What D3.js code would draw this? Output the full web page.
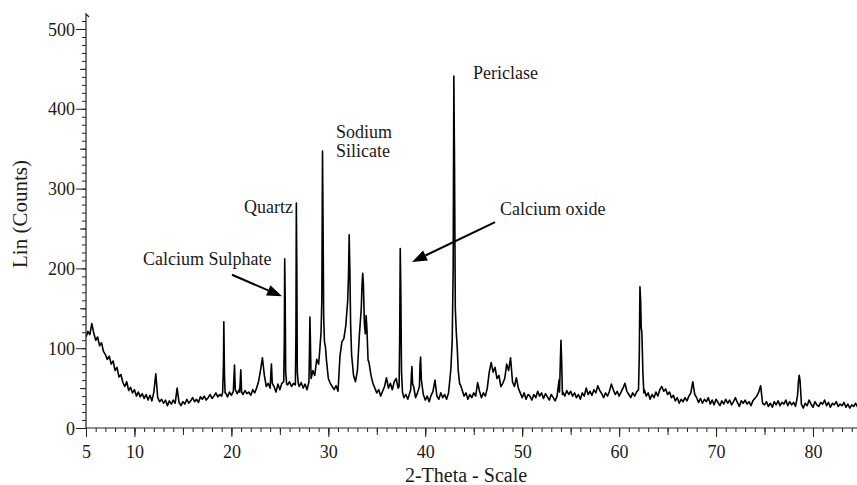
<!DOCTYPE html>
<html>
<head>
<meta charset="utf-8">
<script src="https://cdnjs.cloudflare.com/ajax/libs/d3/7.8.5/d3.min.js"></script>
<style>
    body { margin: 0; background: #fff; }
    #chart { width: 857px; height: 485px; }
    text { font-family: "Liberation Serif", "Times New Roman", serif; fill: #1a1a1a; }
</style>
</head>
<body>
<div id="chart"></div>
<script>
//Barrido 2-Theta: fondo leído cada 0.2 grados desde 5.0
const ANGLE_START = 5.0, ANGLE_STEP = 0.2;

const backgroundCounts = [
    114,121,117,131,119,110,114,103,107,96,   // 5.0 - 6.8
    92,86,90,80,84,72,76,64,67,57,            // 7.0
    52,58,47,51,44,48,40,45,39,43,            // 9.0
    37,42,35,41,34,45,68,38,33,36,            // 11.0
    31,35,28,34,30,35,31,50,32,28,            // 13.0
    33,30,36,31,34,38,33,36,32,39,            // 15.0
    36,40,35,38,42,37,40,44,39,42,            // 17.0
    40,43,44,39,45,41,47,44,43,48,            // 19.0
    46,42,47,43,45,41,48,44,50,58,            // 21.0
    72,88,66,52,56,50,55,52,45,55,            // 23.0
    48,56,58,62,54,58,52,56,54,58,            // 25.0
    52,57,50,55,48,60,58,72,66,86,            // 27.0
    80,110,140,104,88,62,56,52,48,53,         // 29.0
    46,90,108,112,128,160,180,95,66,58,       // 31.0
    72,116,150,170,122,130,82,66,56,50,       // 33.0
    44,48,40,46,52,63,50,56,48,58,            // 35.0
    62,50,90,60,38,42,36,44,72,52,            // 37.0
    38,44,70,80,42,35,40,33,41,46,            // 39.0
    60,40,36,44,38,42,36,44,60,110,           // 41.0
    300,115,80,55,48,40,44,36,42,38,          // 43.0
    44,40,57,46,38,44,40,50,70,82,            // 45.0
    70,76,62,66,52,56,62,80,72,88,            // 47.0
    58,52,63,50,44,38,44,36,42,40,            // 49.0
    35,42,38,46,40,44,37,43,39,35,            // 51.0
    42,38,34,40,60,105,45,40,47,42,           // 53.0
    46,40,44,38,42,36,44,40,50,42,            // 55.0
    46,41,48,44,53,47,43,38,44,40,            // 57.0
    46,55,48,42,46,40,45,50,56,46,            // 59.0
    42,38,44,40,45,50,170,110,48,40,          // 61.0
    44,36,42,38,45,40,48,52,46,49,            // 63.0
    42,45,38,41,34,38,31,36,33,38,            // 65.0
    34,40,44,58,42,38,32,37,31,36,            // 67.0
    33,38,30,35,29,36,32,28,34,30,            // 69.0
    36,31,35,29,33,38,32,27,34,31,            // 71.0
    35,30,33,28,34,37,40,45,53,31,            // 73.0
    29,33,27,31,26,33,29,34,28,32,            // 75.0
    30,35,28,33,29,32,27,40,65,30,            // 77.0
    25,31,28,35,30,26,33,29,27,32,            // 79.0
    30,35,28,32,26,31,29,33,27,30,            // 81.0
    28,32,26,30,25,29,27,31,26                // 83.0 - 84.6
];

//Picos estrechos [2-theta, cuentas]
const peakProfiles = [
    [[19.1,45],[19.18,80],[19.22,133],[19.28,70],[19.35,44]],
    [[20.2,46],[20.27,65],[20.32,79],[20.4,48]],
    [[20.85,45],[20.92,60],[20.97,73],[21.05,45]],
    [[24.0,50],[24.08,70],[24.13,80],[24.22,56]],
    [[25.4,58],[25.46,110],[25.5,212],[25.55,160],[25.6,70],[25.7,55]],
    [[26.6,54],[26.66,120],[26.7,282],[26.75,200],[26.8,70],[26.9,56]],
    [[28.0,58],[28.06,100],[28.1,139],[28.15,110],[28.22,62],[28.3,66]],
    [[29.1,95],[29.25,120],[29.33,160],[29.4,347],[29.46,250],[29.52,140],[29.6,108],[29.7,102],[29.8,86]],
    [[32.0,160],[32.08,190],[32.15,242],[32.22,200],[32.3,130],[32.4,92]],
    [[33.4,150],[33.48,180],[33.55,194],[33.62,180],[33.72,130],[33.82,118],[33.9,141],[33.98,125],[34.1,85]],
    [[37.3,52],[37.36,110],[37.42,225],[37.48,170],[37.55,70],[37.65,45]],
    [[38.5,48],[38.57,66],[38.62,77],[38.7,55]],
    [[39.4,52],[39.46,80],[39.52,89],[39.6,60]],
    [[42.5,56],[42.65,75],[42.78,110],[42.88,200],[42.95,441],[43.02,330],[43.1,150],[43.2,120],[43.3,100],[43.4,72],[43.55,55]],
    [[53.85,45],[53.93,80],[54.0,110],[54.07,85],[54.15,42]],
    [[62.0,48],[62.08,90],[62.15,177],[62.22,160],[62.28,125],[62.35,120],[62.45,70],[62.55,44]],
    [[78.4,40],[78.5,58],[78.58,66],[78.66,60],[78.78,36]]
];

const xTickLabels = [5, 10, 20, 30, 40, 50, 60, 70, 80];
const yTickLabels = [0, 100, 200, 300, 400, 500];

//Etiquetas de fases: [texto, 2-theta, cuentas, ancla]
const phaseLabels = [
    ['Periclase', 44.93, 437, 'start'],
    ['Sodium', 30.8, 363, 'start'],
    ['Silicate', 30.8, 340, 'start'],
    ['Quartz', 26.36, 270, 'end'],
    ['Calcium oxide', 47.7, 267, 'start'],
    ['Calcium Sulphate', 10.88, 204, 'start']
];
//Flechas: [desde 2-theta, desde cuentas, hasta 2-theta, hasta cuentas]
const phaseArrows = [
    [20.06, 192, 25.22, 165],
    [47.2, 258, 38.63, 208]
];

let width = 857, height = 485;

let svg = d3.select('#chart')
    .append('svg')
    .attr('width', width)
    .attr('height', height);

let x = d3.scaleLinear()
    .domain([5, 84.5])
    .range([86, 856.6]);

let y = d3.scaleLinear()
    .domain([0, 500])
    .range([428, 29]);

//Serie completa
let spans = peakProfiles.map(function(p) { return [p[0][0] - 1e-6, p[p.length - 1][0] + 1e-6]; });
let series = backgroundCounts
    .map(function(c, i) { return [ANGLE_START + i * ANGLE_STEP, c]; })
    .filter(function(d) { return !spans.some(function(s) { return d[0] >= s[0] && d[0] <= s[1]; }); });
peakProfiles.forEach(function(p) { series = series.concat(p); });
series.sort(function(a, b) { return a[0] - b[0]; });

svg.append('clipPath').attr('id', 'plot-clip')
    .append('rect')
    .attr('x', 86).attr('y', 0)
    .attr('width', width - 86).attr('height', 428);

svg.append('path')
    .datum(series)
    .attr('clip-path', 'url(#plot-clip)')
    .attr('fill', 'none')
    .attr('stroke', '#000')
    .attr('stroke-width', 1.6)
    .attr('stroke-linejoin', 'round')
    .attr('d', d3.line()
        .x(function(d) { return x(d[0]); })
        .y(function(d) { return y(d[1]); }));

//Eje Y
function yTicks(values, size, labels) {
    let g = svg.append('g')
        .attr('transform', 'translate(86,0)')
        .call(d3.axisLeft(y).tickValues(values).tickSize(size).tickSizeOuter(0)
            .tickFormat(labels ? d3.format('d') : ''));
    g.select('.domain').remove();
    g.selectAll('line').attr('stroke', '#222');
    g.selectAll('text')
        .attr('x', -11)
        .attr('dy', '0.34em')
        .style('font-size', '18px')
        .style('font-family', '"Liberation Serif", serif')
        .style('fill', '#1a1a1a');
    return g;
}
yTicks(d3.range(0, 520, 10), 4, false);
yTicks(d3.range(50, 520, 100), 6, false);
yTicks(yTickLabels, 10, true);

svg.append('path')
    .attr('d', 'M86,428V14L89,17')
    .attr('fill', 'none')
    .attr('stroke', '#222')
    .attr('stroke-width', 1.2);

//Eje X
function xTicks(values, size, labels) {
    let g = svg.append('g')
        .attr('transform', 'translate(0,428)')
        .call(d3.axisBottom(x).tickValues(values).tickSize(size).tickSizeOuter(0)
            .tickFormat(labels ? d3.format('d') : ''));
    g.select('.domain').remove();
    g.selectAll('line').attr('stroke', '#222');
    g.selectAll('text')
        .attr('y', 30)
        .attr('dy', 0)
        .style('font-size', '18px')
        .style('font-family', '"Liberation Serif", serif')
        .style('fill', '#1a1a1a');
    return g;
}
xTicks(d3.range(5, 85, 1), 4, false);
xTicks(d3.range(5, 85, 5), 7, false);
xTicks(xTickLabels, 9, true);

svg.append('line')
    .attr('x1', 86).attr('x2', 857)
    .attr('y1', 428).attr('y2', 428)
    .attr('stroke', '#222')
    .attr('stroke-width', 1.2);

//Títulos de ejes
svg.append('text')
    .attr('transform', 'translate(27,214) rotate(-90)')
    .attr('text-anchor', 'middle')
    .style('font-size', '21px')
    .text('Lin (Counts)');

svg.append('text')
    .attr('x', 466)
    .attr('y', 482)
    .attr('text-anchor', 'middle')
    .style('font-size', '20px')
    .text('2-Theta - Scale');

//Anotaciones
svg.selectAll('.phase')
    .data(phaseLabels)
    .enter()
    .append('text')
    .attr('class', 'phase')
    .attr('x', function(d) { return x(d[1]); })
    .attr('y', function(d) { return y(d[2]); })
    .attr('text-anchor', function(d) { return d[3]; })
    .style('font-size', '18px')
    .text(function(d) { return d[0]; });

phaseArrows.forEach(function(a) {
    let x1 = x(a[0]), y1 = y(a[1]), x2 = x(a[2]), y2 = y(a[3]);
    let ang = Math.atan2(y2 - y1, x2 - x1);
    let len = 15, half = 5.5;
    let bx = x2 - len * Math.cos(ang), by = y2 - len * Math.sin(ang);
    svg.append('line')
        .attr('x1', x1).attr('y1', y1)
        .attr('x2', bx).attr('y2', by)
        .attr('stroke', '#000')
        .attr('stroke-width', 2);
    svg.append('path')
        .attr('d', 'M' + x2 + ',' + y2 +
            'L' + (bx + half * Math.sin(ang)) + ',' + (by - half * Math.cos(ang)) +
            'L' + (bx - half * Math.sin(ang)) + ',' + (by + half * Math.cos(ang)) + 'Z')
        .attr('fill', '#000');
});
</script>
</body>
</html>
